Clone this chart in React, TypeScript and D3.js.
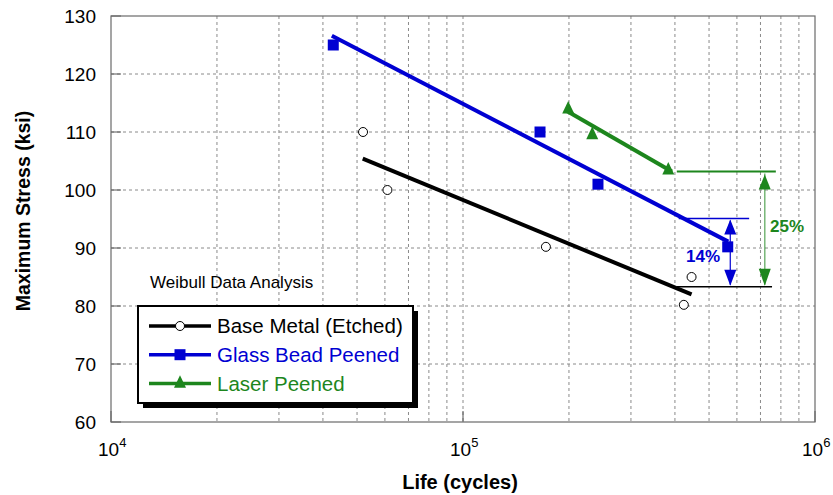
import React from "react";
import * as d3 from "d3";

// ---- data ----
const baseLife = [52000, 61000, 172000, 446000, 424000];
const baseStress = [110, 100, 90.2, 85, 80.2];
const glassLife = [42800, 165500, 241800, 565000];
const glassStress = [125, 110, 101, 90.2];
const laserLife = [199000, 232900, 383000];
const laserStress = [114.1, 109.7, 103.6];

// Weibull fit lines (endpoints)
const baseFitLife = [51900, 446000];
const baseFitStress = [105.4, 82.0];
const glassFitLife = [42400, 567000];
const glassFitStress = [126.6, 91.1];
const laserFitLife = [195000, 392000];
const laserFitStress = [113.8, 103.2];

// annotation levels
const refBaseStress = 83.3;
const refGlassStress = 95.1;
const refLaserStress = 103.2;
const annotLabels = ["14%", "25%"];

const yTicks = [60, 70, 80, 90, 100, 110, 120, 130];
const xMajor = [1e4, 1e5, 1e6];
const xExponents = ["4", "5", "6"];
const legendLabels = ["Base Metal (Etched)", "Glass Bead Peened", "Laser Peened"];

const W = 833, H = 495;
const L = 111, R = 815, T = 16, B = 422;
const BLUE = "#0000d2";
const GREEN = "#1d861d";

export default function App() {
  const x = d3.scaleLog().domain([1e4, 1e6]).range([L, R]);
  const y = d3.scaleLinear().domain([60, 130]).range([B, T]);
  const minor: number[] = [];
  for (const d of [1e4, 1e5]) for (let k = 2; k <= 10; k++) minor.push(d * k);
  const line = d3.line<[number, number]>().x((d) => x(d[0])).y((d) => y(d[1]));
  const pts = (a: number[], b: number[]) => a.map((v, i) => [v, b[i]] as [number, number]);
  const font = "Arial, 'Liberation Sans', sans-serif";

  const tri = (cx: number, cy: number, s: number) =>
    `M${cx},${cy - s * 0.6}L${cx + s / 2},${cy + s * 0.45}L${cx - s / 2},${cy + s * 0.45}Z`;
  const upHead = (cx: number, tip: number, w: number, h: number) =>
    `M${cx},${tip}L${cx + w / 2},${tip + h}L${cx - w / 2},${tip + h}Z`;
  const downHead = (cx: number, tip: number, w: number, h: number) =>
    `M${cx},${tip}L${cx + w / 2},${tip - h}L${cx - w / 2},${tip - h}Z`;

  const blueX = x(567000) + 2;
  const greenX = x(720000);
  const yBase = y(refBaseStress);
  const yGlass = y(refGlassStress);
  const yLaser = y(refLaserStress);

  return (
    <svg width={W} height={H} style={{ position: "absolute", left: 0, top: 0, background: "#fff" }} fontFamily={font}>
      {/* grid */}
      {yTicks.slice(1, -1).map((t) => (
        <line key={"gy" + t} x1={L} x2={R} y1={y(t)} y2={y(t)} stroke="#8a8a8a" strokeDasharray="3,3" strokeWidth={1} />
      ))}
      {minor.filter((v) => v < 1e6).map((v) => (
        <line key={"gx" + v} x1={x(v)} x2={x(v)} y1={T} y2={B} stroke="#8a8a8a" strokeDasharray="3,3" strokeWidth={1} />
      ))}
      {/* ticks */}
      {yTicks.map((t) => (
        <line key={"ty" + t} x1={L} x2={L + 10} y1={y(t)} y2={y(t)} stroke="#555" strokeWidth={1} />
      ))}
      {xMajor.map((v) => (
        <line key={"tx" + v} x1={x(v)} x2={x(v)} y1={B} y2={B - 11} stroke="#555" strokeWidth={1} />
      ))}
      <rect x={L} y={T} width={R - L} height={B - T} fill="none" stroke="#6a6a6a" strokeWidth={1.2} />

      {/* tick labels */}
      {yTicks.map((t) => (
        <text key={"ly" + t} x={96} y={y(t)} dy="0.36em" textAnchor="end" fontSize={19} fill="#000">{t}</text>
      ))}
      {xMajor.map((v, i) => (
        <text key={"lx" + v} x={x(v) - 13} y={456} fontSize={19} fill="#000">
          10<tspan dy={-9} fontSize={13}>{xExponents[i]}</tspan>
        </text>
      ))}
      <text x={460} y={489} textAnchor="middle" fontSize={20} fontWeight="bold">Life (cycles)</text>
      <text transform={`translate(30,211) rotate(-90)`} textAnchor="middle" fontSize={19.5} fontWeight="bold">Maximum Stress (ksi)</text>

      {/* fit lines */}
      <path d={line(pts(baseFitLife, baseFitStress)) || ""} stroke="#000" strokeWidth={4} fill="none" />
      <path d={line(pts(glassFitLife, glassFitStress)) || ""} stroke={BLUE} strokeWidth={4} fill="none" />
      <path d={line(pts(laserFitLife, laserFitStress)) || ""} stroke={GREEN} strokeWidth={4} fill="none" />

      {/* markers */}
      {pts(baseLife, baseStress).map((d, i) => (
        <circle key={"b" + i} cx={x(d[0])} cy={y(d[1])} r={4.5} fill="#fff" stroke="#000" strokeWidth={1} />
      ))}
      {pts(glassLife, glassStress).map((d, i) => (
        <rect key={"g" + i} x={x(d[0]) - 5.5} y={y(d[1]) - 5.5} width={11} height={11} fill={BLUE} />
      ))}
      {pts(laserLife, laserStress).map((d, i) => (
        <path key={"l" + i} d={tri(x(d[0]), y(d[1]), 12)} fill={GREEN} />
      ))}

      {/* annotations */}
      <line x1={x(405000)} x2={x(774000)} y1={yLaser} y2={yLaser} stroke={GREEN} strokeWidth={2} />
      <line x1={x(405000)} x2={x(755000)} y1={yBase} y2={yBase} stroke="#000" strokeWidth={1.5} />
      <line x1={x(410000)} x2={x(650000)} y1={yGlass} y2={yGlass} stroke={BLUE} strokeWidth={1.5} />
      <line x1={blueX} x2={blueX} y1={yGlass + 2} y2={yBase - 2} stroke={BLUE} strokeWidth={1.2} />
      <path d={upHead(blueX, yGlass + 1, 12, 15)} fill={BLUE} />
      <path d={downHead(blueX, yBase - 1, 12, 16)} fill={BLUE} />
      <line x1={greenX} x2={greenX} y1={yLaser + 2} y2={yBase - 2} stroke={GREEN} strokeOpacity={0.6} strokeWidth={1.5} />
      <path d={upHead(greenX, yLaser + 3, 12, 15)} fill={GREEN} />
      <path d={downHead(greenX, yBase - 1, 12, 17)} fill={GREEN} />
      <text x={703} y={262} textAnchor="middle" fontSize={17} fontWeight="bold" fill={BLUE}>{annotLabels[0]}</text>
      <text x={787} y={232} textAnchor="middle" fontSize={17} fontWeight="bold" fill={GREEN}>{annotLabels[1]}</text>

      <text x={150} y={288} fontSize={17} fill="#000">Weibull Data Analysis</text>

      {/* legend */}
      <rect x={143} y={311} width={275} height={97} fill="#000" />
      <rect x={138} y={306} width={275} height={97} fill="#fff" stroke="#000" strokeWidth={2} />
      {legendLabels.map((lab, i) => {
        const cy = 326 + i * 28.7;
        const col = i === 0 ? "#000" : i === 1 ? BLUE : GREEN;
        return (
          <g key={lab}>
            <line x1={149} x2={211} y1={cy} y2={cy} stroke={col} strokeWidth={3.5} />
            {i === 0 && <circle cx={180} cy={cy} r={4.5} fill="#fff" stroke="#000" strokeWidth={1} />}
            {i === 1 && <rect x={174.5} y={cy - 5.5} width={11} height={11} fill={BLUE} />}
            {i === 2 && <path d={tri(180, cy - 1, 12)} fill={GREEN} />}
            <text x={217} y={cy} dy="0.36em" fontSize={20.5} fill={col}>{lab}</text>
          </g>
        );
      })}
    </svg>
  );
}
